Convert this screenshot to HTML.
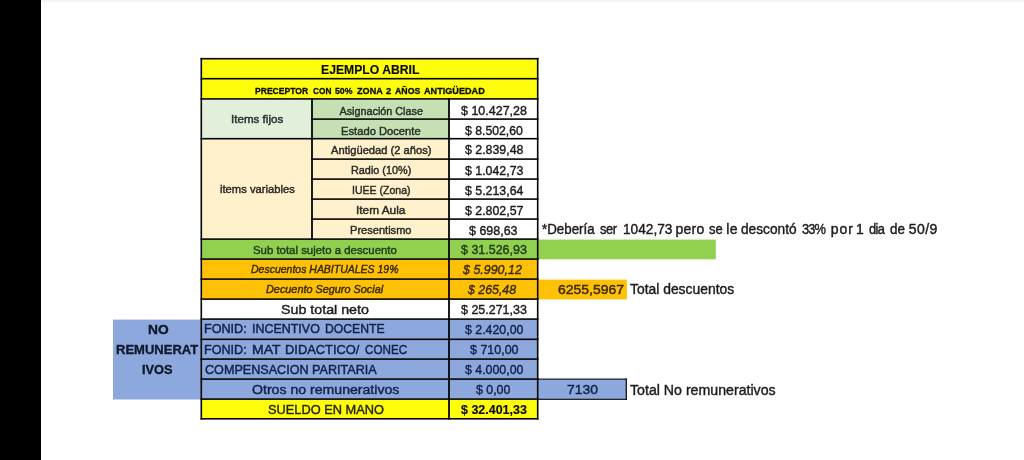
<!DOCTYPE html>
<html lang="es"><head><meta charset="utf-8"><title>Ejemplo Abril</title>
<style>

html,body{margin:0;padding:0;background:#fff}
body{width:1024px;height:460px;position:relative;overflow:hidden;font-family:"Liberation Sans",sans-serif}
svg,.t,.k,.g{position:absolute}
.g{left:0;top:0}
.t{filter:blur(.3px);white-space:nowrap;line-height:1;transform-origin:0 0}

</style></head>
<body>
<div class="k" style="left:0;top:0;width:1024px;height:3px;background:linear-gradient(#f0f0f0,#fff)"></div>
<div class="k" style="left:0;top:0;width:41px;height:460px;background:#000"></div>
<svg width="1024" height="460" viewBox="0 0 1024 460" style="left:0;top:0">
<rect x="201.30" y="58.70" width="336.40" height="40.20" fill="#fefe0c"/>
<rect x="201.30" y="98.90" width="110.70" height="39.80" fill="#e2efda"/>
<rect x="312.00" y="98.90" width="137.00" height="39.80" fill="#c6e0b4"/>
<rect x="201.30" y="138.70" width="247.70" height="100.40" fill="#fff1cb"/>
<rect x="449.00" y="98.90" width="88.70" height="140.20" fill="#ffffff"/>
<rect x="201.30" y="239.10" width="336.40" height="20.00" fill="#92d050"/>
<rect x="537.70" y="239.60" width="178.10" height="19.70" fill="#92d050"/>
<rect x="201.30" y="259.10" width="336.40" height="40.00" fill="#fec106"/>
<rect x="537.70" y="279.60" width="89.20" height="19.80" fill="#fec106"/>
<rect x="113.00" y="319.60" width="424.70" height="79.90" fill="#8da8dc"/>
<rect x="537.70" y="379.10" width="88.30" height="20.00" fill="#8da8dc"/>
<rect x="201.30" y="399.10" width="336.40" height="19.70" fill="#fefe0c"/>
<g fill="#050505">
<rect x="200.50" y="57.90" width="338.00" height="1.60"/>
<rect x="200.50" y="77.90" width="338.00" height="1.60"/>
<rect x="200.50" y="98.10" width="338.00" height="1.60"/>
<rect x="311.20" y="118.30" width="227.30" height="1.60"/>
<rect x="200.50" y="137.90" width="338.00" height="1.60"/>
<rect x="311.20" y="158.30" width="227.30" height="1.60"/>
<rect x="311.20" y="178.30" width="227.30" height="1.60"/>
<rect x="311.20" y="198.30" width="227.30" height="1.60"/>
<rect x="311.20" y="218.30" width="227.30" height="1.60"/>
<rect x="200.50" y="238.30" width="338.00" height="1.60"/>
<rect x="200.50" y="258.30" width="338.00" height="1.60"/>
<rect x="200.50" y="278.30" width="338.00" height="1.60"/>
<rect x="200.50" y="298.30" width="338.00" height="1.60"/>
<rect x="200.50" y="318.30" width="338.00" height="1.60"/>
<rect x="200.50" y="338.50" width="338.00" height="1.60"/>
<rect x="200.50" y="358.30" width="338.00" height="1.60"/>
<rect x="200.50" y="378.30" width="338.00" height="1.60"/>
<rect x="200.50" y="398.30" width="338.00" height="1.60"/>
<rect x="200.50" y="418.00" width="338.00" height="1.60"/>
<rect x="200.50" y="57.90" width="1.60" height="361.70"/>
<rect x="536.90" y="57.90" width="1.60" height="361.70"/>
<rect x="311.10" y="98.00" width="1.80" height="142.00"/>
<rect x="448.10" y="98.00" width="1.80" height="321.70"/>
<rect x="537.15" y="378.55" width="89.70" height="1.10"/>
<rect x="537.15" y="398.75" width="89.70" height="1.10"/>
<rect x="625.70" y="378.50" width="1.20" height="21.40"/>
</g></svg>
<div class="t" style="left:320.58px;top:63.02px;font-size:13.2px;color:#0a0a0a;font-weight:bold;-webkit-text-stroke:0.15px #0a0a0a;transform:scaleX(0.9238);">EJEMPLO ABRIL</div>
<div class="g">
<span class="t" style="left:255.10px;top:86.42px;font-size:9.9px;color:#0a0a0a;font-weight:bold;-webkit-text-stroke:0.3px #0a0a0a;transform:scaleX(0.8672);">PRECEPTOR</span> 
<span class="t" style="left:312.50px;top:86.42px;font-size:9.9px;color:#0a0a0a;font-weight:bold;-webkit-text-stroke:0.3px #0a0a0a;transform:scaleX(0.8364);">CON</span> 
<span class="t" style="left:335.40px;top:86.42px;font-size:9.9px;color:#0a0a0a;font-weight:bold;-webkit-text-stroke:0.3px #0a0a0a;transform:scaleX(0.8850);">50%</span> 
<span class="t" style="left:357.00px;top:86.42px;font-size:9.9px;color:#0a0a0a;font-weight:bold;-webkit-text-stroke:0.3px #0a0a0a;transform:scaleX(0.9214);">ZONA</span> 
<span class="t" style="left:386.20px;top:86.42px;font-size:9.9px;color:#0a0a0a;font-weight:bold;-webkit-text-stroke:0.3px #0a0a0a;transform:scaleX(0.9600);">2</span> 
<span class="t" style="left:394.80px;top:86.42px;font-size:9.9px;color:#0a0a0a;font-weight:bold;-webkit-text-stroke:0.3px #0a0a0a;transform:scaleX(0.8893);">AÑOS</span> 
<span class="t" style="left:424.20px;top:86.42px;font-size:9.9px;color:#0a0a0a;font-weight:bold;-webkit-text-stroke:0.3px #0a0a0a;transform:scaleX(0.9227);">ANTIGÜEDAD</span> 
</div>
<div class="t" style="left:230.73px;top:114.16px;font-size:10.8px;color:#26302a;-webkit-text-stroke:0.42px #26302a;transform:scaleX(1.0750);">Items fijos</div>
<div class="t" style="left:339.50px;top:105.66px;font-size:10.8px;color:#26302a;-webkit-text-stroke:0.42px #26302a;transform:scaleX(1.0000);">Asignación Clase</div>
<div class="t" style="left:341.36px;top:126.06px;font-size:10.8px;color:#26302a;-webkit-text-stroke:0.42px #26302a;transform:scaleX(1.0368);">Estado Docente</div>
<div class="t" style="left:220.00px;top:184.06px;font-size:10.8px;color:#2a2a26;-webkit-text-stroke:0.42px #2a2a26;transform:scaleX(1.0389);">items variables</div>
<div class="t" style="left:330.70px;top:145.16px;font-size:10.8px;color:#2a2a26;-webkit-text-stroke:0.42px #2a2a26;transform:scaleX(1.0340);">Antigüedad (2 años)</div>
<div class="t" style="left:350.59px;top:165.16px;font-size:10.8px;color:#2a2a26;-webkit-text-stroke:0.42px #2a2a26;transform:scaleX(1.0051);">Radio (10%)</div>
<div class="t" style="left:352.02px;top:185.16px;font-size:10.8px;color:#2a2a26;-webkit-text-stroke:0.42px #2a2a26;transform:scaleX(0.9763);">IUEE (Zona)</div>
<div class="t" style="left:355.60px;top:205.16px;font-size:10.8px;color:#2a2a26;-webkit-text-stroke:0.42px #2a2a26;transform:scaleX(1.0977);">Item Aula</div>
<div class="t" style="left:350.27px;top:225.16px;font-size:10.8px;color:#2a2a26;-webkit-text-stroke:0.42px #2a2a26;transform:scaleX(1.0254);">Presentismo</div>
<div class="t" style="left:253.36px;top:244.59px;font-size:11.0px;color:#1e3a18;-webkit-text-stroke:0.42px #1e3a18;transform:scaleX(1.0362);">Sub total sujeto a descuento</div>
<div class="t" style="left:251.00px;top:265.28px;font-size:10.3px;color:#3d2a05;font-style:italic;-webkit-text-stroke:0.42px #3d2a05;transform:scaleX(1.0186);">Descuentos HABITUALES 19%</div>
<div class="t" style="left:265.80px;top:285.28px;font-size:10.3px;color:#3d2a05;font-style:italic;-webkit-text-stroke:0.42px #3d2a05;transform:scaleX(1.0545);">Decuento Seguro Social</div>
<div class="t" style="left:281.05px;top:303.17px;font-size:13.5px;color:#1c1c1c;-webkit-text-stroke:0.42px #1c1c1c;transform:scaleX(1.0549);">Sub total neto</div>
<div class="g">
<span class="t" style="left:204.41px;top:323.36px;font-size:12.8px;color:#12224a;-webkit-text-stroke:0.45px #12224a;transform:scaleX(0.9854);">FONID:</span> 
<span class="t" style="left:251.73px;top:323.36px;font-size:12.8px;color:#12224a;-webkit-text-stroke:0.45px #12224a;transform:scaleX(0.9735);">INCENTIVO</span> 
<span class="t" style="left:324.85px;top:323.36px;font-size:12.8px;color:#12224a;-webkit-text-stroke:0.45px #12224a;transform:scaleX(0.9525);">DOCENTE</span> 
</div>
<div class="g">
<span class="t" style="left:204.41px;top:343.76px;font-size:12.8px;color:#12224a;-webkit-text-stroke:0.45px #12224a;transform:scaleX(0.9854);">FONID:</span> 
<span class="t" style="left:252.21px;top:343.76px;font-size:12.8px;color:#12224a;-webkit-text-stroke:0.45px #12224a;transform:scaleX(1.0920);">MAT</span> 
<span class="t" style="left:284.59px;top:343.76px;font-size:12.8px;color:#12224a;-webkit-text-stroke:0.45px #12224a;transform:scaleX(1.0068);">DIDACTICO/</span> 
<span class="t" style="left:364.50px;top:343.76px;font-size:12.8px;color:#12224a;-webkit-text-stroke:0.45px #12224a;transform:scaleX(0.9130);">CONEC</span> 
</div>
<div class="t" style="left:205.20px;top:363.56px;font-size:12.8px;color:#12224a;-webkit-text-stroke:0.45px #12224a;transform:scaleX(0.9840);">COMPENSACION PARITARIA</div>
<div class="t" style="left:252.10px;top:382.57px;font-size:13.5px;color:#12224a;-webkit-text-stroke:0.42px #12224a;transform:scaleX(1.0447);">Otros no remunerativos</div>
<div class="t" style="left:267.75px;top:402.97px;font-size:13.5px;color:#26260a;-webkit-text-stroke:0.42px #26260a;transform:scaleX(0.9479);">SUELDO EN MANO</div>
<div class="t" style="left:461.00px;top:104.24px;font-size:13.3px;color:#1c1c1c;-webkit-text-stroke:0.42px #1c1c1c;transform:scaleX(0.9386);">$ 10.427,28</div>
<div class="t" style="left:464.90px;top:124.44px;font-size:13.3px;color:#1c1c1c;-webkit-text-stroke:0.42px #1c1c1c;transform:scaleX(0.9206);">$ 8.502,60</div>
<div class="t" style="left:464.70px;top:143.34px;font-size:13.3px;color:#1c1c1c;-webkit-text-stroke:0.42px #1c1c1c;transform:scaleX(0.9286);">$ 2.839,48</div>
<div class="t" style="left:464.70px;top:163.74px;font-size:13.3px;color:#1c1c1c;-webkit-text-stroke:0.42px #1c1c1c;transform:scaleX(0.9286);">$ 1.042,73</div>
<div class="t" style="left:464.70px;top:183.74px;font-size:13.3px;color:#1c1c1c;-webkit-text-stroke:0.42px #1c1c1c;transform:scaleX(0.9286);">$ 5.213,64</div>
<div class="t" style="left:464.70px;top:203.74px;font-size:13.3px;color:#1c1c1c;-webkit-text-stroke:0.42px #1c1c1c;transform:scaleX(0.9286);">$ 2.802,57</div>
<div class="t" style="left:469.30px;top:223.74px;font-size:13.3px;color:#1c1c1c;-webkit-text-stroke:0.42px #1c1c1c;transform:scaleX(0.9373);">$ 698,63</div>
<div class="t" style="left:460.90px;top:243.14px;font-size:13.3px;color:#1e3a18;-webkit-text-stroke:0.42px #1e3a18;transform:scaleX(0.9371);">$ 31.526,93</div>
<div class="t" style="left:462.90px;top:263.14px;font-size:13.3px;color:#3d2a05;font-style:italic;-webkit-text-stroke:0.42px #3d2a05;transform:scaleX(0.9365);">$ 5.990,12</div>
<div class="t" style="left:468.00px;top:283.14px;font-size:13.3px;color:#3d2a05;font-style:italic;-webkit-text-stroke:0.42px #3d2a05;transform:scaleX(0.9288);">$ 265,48</div>
<div class="t" style="left:460.90px;top:303.14px;font-size:13.3px;color:#1c1c1c;-webkit-text-stroke:0.42px #1c1c1c;transform:scaleX(0.9371);">$ 25.271,33</div>
<div class="t" style="left:464.70px;top:323.14px;font-size:13.3px;color:#12224a;-webkit-text-stroke:0.42px #12224a;transform:scaleX(0.9286);">$ 2.420,00</div>
<div class="t" style="left:469.80px;top:343.34px;font-size:13.3px;color:#12224a;-webkit-text-stroke:0.42px #12224a;transform:scaleX(0.9373);">$ 710,00</div>
<div class="t" style="left:464.70px;top:363.14px;font-size:13.3px;color:#12224a;-webkit-text-stroke:0.42px #12224a;transform:scaleX(0.9286);">$ 4.000,00</div>
<div class="t" style="left:476.40px;top:383.14px;font-size:13.3px;color:#12224a;-webkit-text-stroke:0.42px #12224a;transform:scaleX(0.9270);">$ 0,00</div>
<div class="t" style="left:460.90px;top:403.14px;font-size:13.3px;color:#0a0a0a;font-weight:bold;-webkit-text-stroke:0.15px #0a0a0a;transform:scaleX(0.9371);">$ 32.401,33</div>
<div class="t" style="left:147.56px;top:323.22px;font-size:13.2px;color:#10182c;font-weight:bold;-webkit-text-stroke:0.35px #10182c;transform:scaleX(1.0444);">NO</div>
<div class="t" style="left:116.11px;top:343.42px;font-size:13.2px;color:#10182c;font-weight:bold;-webkit-text-stroke:0.35px #10182c;transform:scaleX(0.9866);">REMUNERAT</div>
<div class="t" style="left:142.43px;top:363.22px;font-size:13.2px;color:#10182c;font-weight:bold;-webkit-text-stroke:0.35px #10182c;transform:scaleX(0.9700);">IVOS</div>
<div class="g">
<span class="t" style="left:541.80px;top:222.15px;font-size:14.0px;color:#1c1c1c;-webkit-text-stroke:0.42px #1c1c1c;transform:scaleX(0.9536);">*Debería</span> 
<span class="t" style="left:599.80px;top:222.15px;font-size:14.0px;color:#1c1c1c;-webkit-text-stroke:0.42px #1c1c1c;transform:scaleX(0.9200);letter-spacing:-0.489px;">ser</span> 
<span class="t" style="left:622.52px;top:222.15px;font-size:14.0px;color:#1c1c1c;-webkit-text-stroke:0.42px #1c1c1c;transform:scaleX(0.9755);">1042,73</span> 
<span class="t" style="left:675.50px;top:222.15px;font-size:14.0px;color:#1c1c1c;-webkit-text-stroke:0.42px #1c1c1c;transform:scaleX(1.0000);letter-spacing:0.233px;">pero</span> 
<span class="t" style="left:708.70px;top:222.15px;font-size:14.0px;color:#1c1c1c;-webkit-text-stroke:0.42px #1c1c1c;transform:scaleX(0.9286);">se</span> 
<span class="t" style="left:726.20px;top:222.15px;font-size:14.0px;color:#1c1c1c;-webkit-text-stroke:0.42px #1c1c1c;transform:scaleX(1.0000);letter-spacing:0.500px;">le</span> 
<span class="t" style="left:741.00px;top:222.15px;font-size:14.0px;color:#1c1c1c;-webkit-text-stroke:0.42px #1c1c1c;transform:scaleX(0.9786);">descontó</span> 
<span class="t" style="left:802.00px;top:222.15px;font-size:14.0px;color:#1c1c1c;-webkit-text-stroke:0.42px #1c1c1c;transform:scaleX(0.9200);letter-spacing:-0.957px;">33%</span> 
<span class="t" style="left:830.80px;top:222.15px;font-size:14.0px;color:#1c1c1c;-webkit-text-stroke:0.42px #1c1c1c;transform:scaleX(1.0000);letter-spacing:0.900px;">por</span> 
<span class="t" style="left:855.95px;top:222.15px;font-size:14.0px;color:#1c1c1c;-webkit-text-stroke:0.42px #1c1c1c;transform:scaleX(1.0000);">1</span> 
<span class="t" style="left:868.50px;top:222.15px;font-size:14.0px;color:#1c1c1c;-webkit-text-stroke:0.42px #1c1c1c;transform:scaleX(0.9200);letter-spacing:-0.641px;">dia</span> 
<span class="t" style="left:890.20px;top:222.15px;font-size:14.0px;color:#1c1c1c;-webkit-text-stroke:0.42px #1c1c1c;transform:scaleX(0.9600);">de</span> 
<span class="t" style="left:908.80px;top:222.15px;font-size:14.0px;color:#1c1c1c;-webkit-text-stroke:0.42px #1c1c1c;transform:scaleX(1.0000);letter-spacing:0.400px;">50/9</span> 
</div>
<div class="t" style="left:557.80px;top:282.89px;font-size:13.0px;color:#3d2a05;-webkit-text-stroke:0.45px #3d2a05;transform:scaleX(1.0754);">6255,5967</div>
<div class="t" style="left:630.20px;top:282.05px;font-size:14.0px;color:#1c1c1c;-webkit-text-stroke:0.4px #1c1c1c;transform:scaleX(0.9914);">Total descuentos</div>
<div class="t" style="left:567.20px;top:383.32px;font-size:13.2px;color:#12224a;-webkit-text-stroke:0.42px #12224a;transform:scaleX(1.0552);">7130</div>
<div class="t" style="left:630.30px;top:382.65px;font-size:14.0px;color:#1c1c1c;-webkit-text-stroke:0.4px #1c1c1c;transform:scaleX(1.0118);">Total No remunerativos</div>
</body></html>
